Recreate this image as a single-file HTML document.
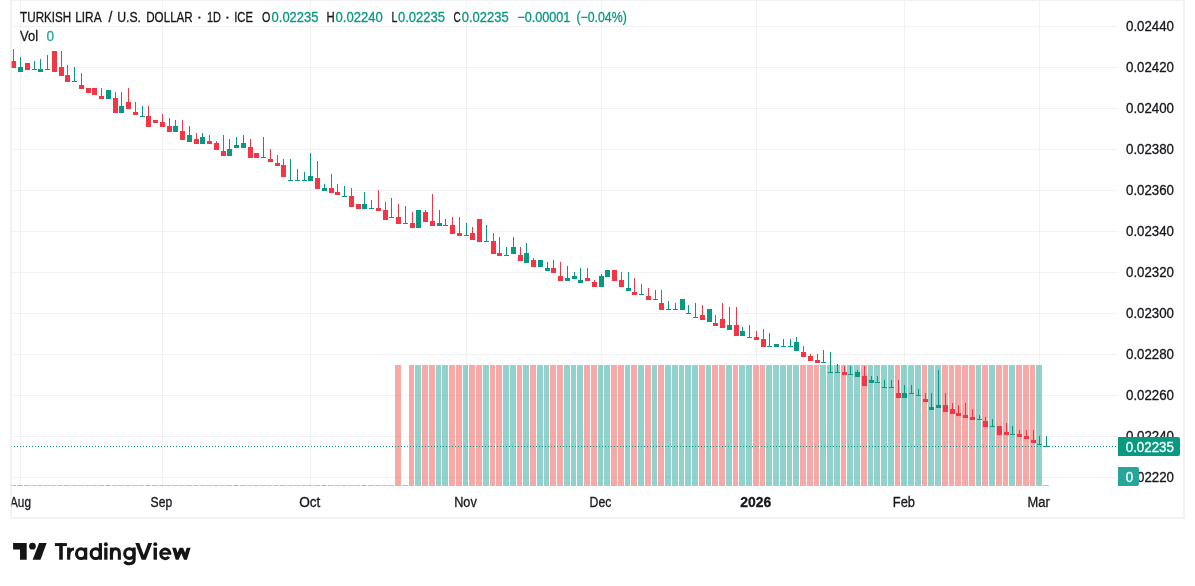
<!DOCTYPE html>
<html><head><meta charset="utf-8"><title>TRYUSD</title><style>
html,body{margin:0;padding:0;background:#fff}
body{width:1195px;height:586px;overflow:hidden;position:relative;font-family:"Liberation Sans", sans-serif}
svg{position:absolute;left:0;top:0;display:block;will-change:transform}
text{font-family:"Liberation Sans", sans-serif;font-size:13.8px;stroke-width:0.3px;stroke-linejoin:round}
</style></head><body>
<svg width="1195" height="586" viewBox="0 0 1195 586">
<defs><clipPath id="pane"><rect x="11" y="0" width="1106" height="486"/></clipPath>
<clipPath id="box"><rect x="11" y="1" width="1172" height="516"/></clipPath></defs>
<g shape-rendering="crispEdges">
<rect x="10" y="0" width="1175" height="519" fill="#f2f2f2"/>
<rect x="12" y="1" width="1171" height="516" fill="#ffffff"/>
<rect x="20" y="1" width="1" height="485" fill="rgba(30,30,30,0.058)"/>
<rect x="162" y="1" width="1" height="485" fill="rgba(30,30,30,0.058)"/>
<rect x="310" y="1" width="1" height="485" fill="rgba(30,30,30,0.058)"/>
<rect x="466" y="1" width="1" height="485" fill="rgba(30,30,30,0.058)"/>
<rect x="601" y="1" width="1" height="485" fill="rgba(30,30,30,0.058)"/>
<rect x="756" y="1" width="1" height="485" fill="rgba(30,30,30,0.058)"/>
<rect x="904" y="1" width="1" height="485" fill="rgba(30,30,30,0.058)"/>
<rect x="1039" y="1" width="1" height="485" fill="rgba(30,30,30,0.058)"/>
<rect x="12" y="26" width="1105" height="1" fill="rgba(30,30,30,0.058)"/>
<rect x="12" y="67" width="1105" height="1" fill="rgba(30,30,30,0.058)"/>
<rect x="12" y="108" width="1105" height="1" fill="rgba(30,30,30,0.058)"/>
<rect x="12" y="149" width="1105" height="1" fill="rgba(30,30,30,0.058)"/>
<rect x="12" y="190" width="1105" height="1" fill="rgba(30,30,30,0.058)"/>
<rect x="12" y="231" width="1105" height="1" fill="rgba(30,30,30,0.058)"/>
<rect x="12" y="272" width="1105" height="1" fill="rgba(30,30,30,0.058)"/>
<rect x="12" y="313" width="1105" height="1" fill="rgba(30,30,30,0.058)"/>
<rect x="12" y="354" width="1105" height="1" fill="rgba(30,30,30,0.058)"/>
<rect x="12" y="395" width="1105" height="1" fill="rgba(30,30,30,0.058)"/>
<rect x="12" y="436" width="1105" height="1" fill="rgba(30,30,30,0.058)"/>
<rect x="12" y="477" width="1105" height="1" fill="rgba(30,30,30,0.058)"/>
<g clip-path="url(#pane)">
<rect x="10" y="485" width="6" height="1" fill="rgba(239,83,80,0.5)"/>
<rect x="17" y="485" width="6" height="1" fill="rgba(38,166,154,0.5)"/>
<rect x="24" y="485" width="6" height="1" fill="rgba(239,83,80,0.5)"/>
<rect x="31" y="485" width="5" height="1" fill="rgba(38,166,154,0.5)"/>
<rect x="37" y="485" width="6" height="1" fill="rgba(38,166,154,0.5)"/>
<rect x="44" y="485" width="6" height="1" fill="rgba(38,166,154,0.5)"/>
<rect x="51" y="485" width="6" height="1" fill="rgba(239,83,80,0.5)"/>
<rect x="58" y="485" width="5" height="1" fill="rgba(239,83,80,0.5)"/>
<rect x="64" y="485" width="6" height="1" fill="rgba(239,83,80,0.5)"/>
<rect x="71" y="485" width="6" height="1" fill="rgba(38,166,154,0.5)"/>
<rect x="78" y="485" width="6" height="1" fill="rgba(239,83,80,0.5)"/>
<rect x="85" y="485" width="5" height="1" fill="rgba(239,83,80,0.5)"/>
<rect x="91" y="485" width="6" height="1" fill="rgba(239,83,80,0.5)"/>
<rect x="98" y="485" width="6" height="1" fill="rgba(239,83,80,0.5)"/>
<rect x="105" y="485" width="6" height="1" fill="rgba(38,166,154,0.5)"/>
<rect x="112" y="485" width="5" height="1" fill="rgba(239,83,80,0.5)"/>
<rect x="118" y="485" width="6" height="1" fill="rgba(38,166,154,0.5)"/>
<rect x="125" y="485" width="6" height="1" fill="rgba(239,83,80,0.5)"/>
<rect x="132" y="485" width="6" height="1" fill="rgba(239,83,80,0.5)"/>
<rect x="139" y="485" width="5" height="1" fill="rgba(38,166,154,0.5)"/>
<rect x="145" y="485" width="6" height="1" fill="rgba(239,83,80,0.5)"/>
<rect x="152" y="485" width="6" height="1" fill="rgba(239,83,80,0.5)"/>
<rect x="159" y="485" width="6" height="1" fill="rgba(239,83,80,0.5)"/>
<rect x="166" y="485" width="5" height="1" fill="rgba(239,83,80,0.5)"/>
<rect x="172" y="485" width="6" height="1" fill="rgba(38,166,154,0.5)"/>
<rect x="179" y="485" width="6" height="1" fill="rgba(239,83,80,0.5)"/>
<rect x="186" y="485" width="6" height="1" fill="rgba(38,166,154,0.5)"/>
<rect x="193" y="485" width="5" height="1" fill="rgba(239,83,80,0.5)"/>
<rect x="199" y="485" width="6" height="1" fill="rgba(38,166,154,0.5)"/>
<rect x="206" y="485" width="6" height="1" fill="rgba(239,83,80,0.5)"/>
<rect x="213" y="485" width="6" height="1" fill="rgba(239,83,80,0.5)"/>
<rect x="220" y="485" width="5" height="1" fill="rgba(239,83,80,0.5)"/>
<rect x="226" y="485" width="6" height="1" fill="rgba(38,166,154,0.5)"/>
<rect x="233" y="485" width="6" height="1" fill="rgba(38,166,154,0.5)"/>
<rect x="240" y="485" width="6" height="1" fill="rgba(38,166,154,0.5)"/>
<rect x="247" y="485" width="5" height="1" fill="rgba(239,83,80,0.5)"/>
<rect x="253" y="485" width="6" height="1" fill="rgba(239,83,80,0.5)"/>
<rect x="260" y="485" width="6" height="1" fill="rgba(38,166,154,0.5)"/>
<rect x="267" y="485" width="6" height="1" fill="rgba(239,83,80,0.5)"/>
<rect x="274" y="485" width="5" height="1" fill="rgba(239,83,80,0.5)"/>
<rect x="280" y="485" width="6" height="1" fill="rgba(239,83,80,0.5)"/>
<rect x="287" y="485" width="6" height="1" fill="rgba(38,166,154,0.5)"/>
<rect x="294" y="485" width="6" height="1" fill="rgba(38,166,154,0.5)"/>
<rect x="301" y="485" width="5" height="1" fill="rgba(38,166,154,0.5)"/>
<rect x="307" y="485" width="6" height="1" fill="rgba(38,166,154,0.5)"/>
<rect x="314" y="485" width="6" height="1" fill="rgba(239,83,80,0.5)"/>
<rect x="321" y="485" width="6" height="1" fill="rgba(38,166,154,0.5)"/>
<rect x="328" y="485" width="5" height="1" fill="rgba(239,83,80,0.5)"/>
<rect x="334" y="485" width="6" height="1" fill="rgba(239,83,80,0.5)"/>
<rect x="341" y="485" width="6" height="1" fill="rgba(38,166,154,0.5)"/>
<rect x="348" y="485" width="6" height="1" fill="rgba(239,83,80,0.5)"/>
<rect x="355" y="485" width="5" height="1" fill="rgba(239,83,80,0.5)"/>
<rect x="361" y="485" width="6" height="1" fill="rgba(38,166,154,0.5)"/>
<rect x="368" y="485" width="6" height="1" fill="rgba(38,166,154,0.5)"/>
<rect x="375" y="485" width="6" height="1" fill="rgba(239,83,80,0.5)"/>
<rect x="382" y="485" width="5" height="1" fill="rgba(239,83,80,0.5)"/>
<rect x="388" y="485" width="6" height="1" fill="rgba(38,166,154,0.5)"/>
<rect x="395" y="365" width="6" height="121" fill="rgba(239,83,80,0.5)"/>
<rect x="402" y="485" width="6" height="1" fill="rgba(38,166,154,0.5)"/>
<rect x="409" y="365" width="5" height="121" fill="rgba(239,83,80,0.5)"/>
<rect x="415" y="365" width="6" height="121" fill="rgba(38,166,154,0.5)"/>
<rect x="422" y="365" width="6" height="121" fill="rgba(239,83,80,0.5)"/>
<rect x="429" y="365" width="6" height="121" fill="rgba(239,83,80,0.5)"/>
<rect x="436" y="365" width="5" height="121" fill="rgba(38,166,154,0.5)"/>
<rect x="442" y="365" width="6" height="121" fill="rgba(38,166,154,0.5)"/>
<rect x="449" y="365" width="6" height="121" fill="rgba(239,83,80,0.5)"/>
<rect x="456" y="365" width="6" height="121" fill="rgba(239,83,80,0.5)"/>
<rect x="463" y="365" width="5" height="121" fill="rgba(38,166,154,0.5)"/>
<rect x="469" y="365" width="6" height="121" fill="rgba(239,83,80,0.5)"/>
<rect x="476" y="365" width="6" height="121" fill="rgba(239,83,80,0.5)"/>
<rect x="483" y="365" width="6" height="121" fill="rgba(38,166,154,0.5)"/>
<rect x="490" y="365" width="5" height="121" fill="rgba(239,83,80,0.5)"/>
<rect x="496" y="365" width="6" height="121" fill="rgba(239,83,80,0.5)"/>
<rect x="503" y="365" width="6" height="121" fill="rgba(38,166,154,0.5)"/>
<rect x="510" y="365" width="6" height="121" fill="rgba(38,166,154,0.5)"/>
<rect x="517" y="365" width="5" height="121" fill="rgba(239,83,80,0.5)"/>
<rect x="523" y="365" width="6" height="121" fill="rgba(38,166,154,0.5)"/>
<rect x="530" y="365" width="6" height="121" fill="rgba(239,83,80,0.5)"/>
<rect x="537" y="365" width="6" height="121" fill="rgba(38,166,154,0.5)"/>
<rect x="544" y="365" width="5" height="121" fill="rgba(38,166,154,0.5)"/>
<rect x="550" y="365" width="6" height="121" fill="rgba(239,83,80,0.5)"/>
<rect x="557" y="365" width="6" height="121" fill="rgba(239,83,80,0.5)"/>
<rect x="564" y="365" width="6" height="121" fill="rgba(38,166,154,0.5)"/>
<rect x="571" y="365" width="5" height="121" fill="rgba(38,166,154,0.5)"/>
<rect x="577" y="365" width="6" height="121" fill="rgba(38,166,154,0.5)"/>
<rect x="584" y="365" width="6" height="121" fill="rgba(239,83,80,0.5)"/>
<rect x="591" y="365" width="6" height="121" fill="rgba(239,83,80,0.5)"/>
<rect x="598" y="365" width="5" height="121" fill="rgba(38,166,154,0.5)"/>
<rect x="604" y="365" width="6" height="121" fill="rgba(38,166,154,0.5)"/>
<rect x="611" y="365" width="6" height="121" fill="rgba(239,83,80,0.5)"/>
<rect x="618" y="365" width="6" height="121" fill="rgba(239,83,80,0.5)"/>
<rect x="625" y="365" width="5" height="121" fill="rgba(38,166,154,0.5)"/>
<rect x="631" y="365" width="6" height="121" fill="rgba(239,83,80,0.5)"/>
<rect x="638" y="365" width="6" height="121" fill="rgba(38,166,154,0.5)"/>
<rect x="645" y="365" width="6" height="121" fill="rgba(239,83,80,0.5)"/>
<rect x="652" y="365" width="5" height="121" fill="rgba(38,166,154,0.5)"/>
<rect x="658" y="365" width="6" height="121" fill="rgba(239,83,80,0.5)"/>
<rect x="665" y="365" width="6" height="121" fill="rgba(38,166,154,0.5)"/>
<rect x="672" y="365" width="6" height="121" fill="rgba(38,166,154,0.5)"/>
<rect x="679" y="365" width="5" height="121" fill="rgba(38,166,154,0.5)"/>
<rect x="685" y="365" width="6" height="121" fill="rgba(38,166,154,0.5)"/>
<rect x="692" y="365" width="6" height="121" fill="rgba(38,166,154,0.5)"/>
<rect x="699" y="365" width="6" height="121" fill="rgba(239,83,80,0.5)"/>
<rect x="706" y="365" width="5" height="121" fill="rgba(38,166,154,0.5)"/>
<rect x="712" y="365" width="6" height="121" fill="rgba(239,83,80,0.5)"/>
<rect x="719" y="365" width="6" height="121" fill="rgba(239,83,80,0.5)"/>
<rect x="726" y="365" width="6" height="121" fill="rgba(38,166,154,0.5)"/>
<rect x="733" y="365" width="5" height="121" fill="rgba(239,83,80,0.5)"/>
<rect x="739" y="365" width="6" height="121" fill="rgba(38,166,154,0.5)"/>
<rect x="746" y="365" width="6" height="121" fill="rgba(38,166,154,0.5)"/>
<rect x="753" y="365" width="6" height="121" fill="rgba(239,83,80,0.5)"/>
<rect x="760" y="365" width="5" height="121" fill="rgba(239,83,80,0.5)"/>
<rect x="766" y="365" width="6" height="121" fill="rgba(38,166,154,0.5)"/>
<rect x="773" y="365" width="6" height="121" fill="rgba(38,166,154,0.5)"/>
<rect x="780" y="365" width="6" height="121" fill="rgba(38,166,154,0.5)"/>
<rect x="787" y="365" width="5" height="121" fill="rgba(38,166,154,0.5)"/>
<rect x="793" y="365" width="6" height="121" fill="rgba(38,166,154,0.5)"/>
<rect x="800" y="365" width="6" height="121" fill="rgba(239,83,80,0.5)"/>
<rect x="807" y="365" width="6" height="121" fill="rgba(239,83,80,0.5)"/>
<rect x="814" y="365" width="5" height="121" fill="rgba(239,83,80,0.5)"/>
<rect x="820" y="365" width="6" height="121" fill="rgba(38,166,154,0.5)"/>
<rect x="827" y="365" width="6" height="121" fill="rgba(38,166,154,0.5)"/>
<rect x="834" y="365" width="6" height="121" fill="rgba(38,166,154,0.5)"/>
<rect x="841" y="365" width="5" height="121" fill="rgba(239,83,80,0.5)"/>
<rect x="847" y="365" width="6" height="121" fill="rgba(38,166,154,0.5)"/>
<rect x="854" y="365" width="6" height="121" fill="rgba(38,166,154,0.5)"/>
<rect x="861" y="365" width="6" height="121" fill="rgba(239,83,80,0.5)"/>
<rect x="868" y="365" width="5" height="121" fill="rgba(38,166,154,0.5)"/>
<rect x="874" y="365" width="6" height="121" fill="rgba(38,166,154,0.5)"/>
<rect x="881" y="365" width="6" height="121" fill="rgba(38,166,154,0.5)"/>
<rect x="888" y="365" width="6" height="121" fill="rgba(38,166,154,0.5)"/>
<rect x="895" y="365" width="5" height="121" fill="rgba(239,83,80,0.5)"/>
<rect x="901" y="365" width="6" height="121" fill="rgba(38,166,154,0.5)"/>
<rect x="908" y="365" width="6" height="121" fill="rgba(38,166,154,0.5)"/>
<rect x="915" y="365" width="6" height="121" fill="rgba(38,166,154,0.5)"/>
<rect x="922" y="365" width="5" height="121" fill="rgba(239,83,80,0.5)"/>
<rect x="928" y="365" width="6" height="121" fill="rgba(38,166,154,0.5)"/>
<rect x="935" y="365" width="6" height="121" fill="rgba(38,166,154,0.5)"/>
<rect x="942" y="365" width="6" height="121" fill="rgba(239,83,80,0.5)"/>
<rect x="949" y="365" width="5" height="121" fill="rgba(239,83,80,0.5)"/>
<rect x="955" y="365" width="6" height="121" fill="rgba(239,83,80,0.5)"/>
<rect x="962" y="365" width="6" height="121" fill="rgba(239,83,80,0.5)"/>
<rect x="969" y="365" width="6" height="121" fill="rgba(239,83,80,0.5)"/>
<rect x="976" y="365" width="5" height="121" fill="rgba(38,166,154,0.5)"/>
<rect x="982" y="365" width="6" height="121" fill="rgba(239,83,80,0.5)"/>
<rect x="989" y="365" width="6" height="121" fill="rgba(38,166,154,0.5)"/>
<rect x="996" y="365" width="6" height="121" fill="rgba(239,83,80,0.5)"/>
<rect x="1003" y="365" width="5" height="121" fill="rgba(239,83,80,0.5)"/>
<rect x="1009" y="365" width="6" height="121" fill="rgba(38,166,154,0.5)"/>
<rect x="1016" y="365" width="6" height="121" fill="rgba(239,83,80,0.5)"/>
<rect x="1023" y="365" width="6" height="121" fill="rgba(239,83,80,0.5)"/>
<rect x="1030" y="365" width="5" height="121" fill="rgba(239,83,80,0.5)"/>
<rect x="1036" y="365" width="6" height="121" fill="rgba(38,166,154,0.5)"/>
<rect x="1043" y="485" width="6" height="1" fill="rgba(38,166,154,0.5)"/>
<rect x="13" y="49" width="1" height="19" fill="#f23645"/>
<rect x="11" y="61" width="5" height="7" fill="#f23645"/>
<rect x="20" y="57" width="1" height="15" fill="#089981"/>
<rect x="18" y="67" width="5" height="5" fill="#089981"/>
<rect x="25" y="63" width="5" height="7" fill="#f23645"/>
<rect x="34" y="61" width="1" height="9" fill="#089981"/>
<rect x="32" y="69" width="5" height="1" fill="#089981"/>
<rect x="40" y="59" width="1" height="13" fill="#089981"/>
<rect x="38" y="69" width="5" height="3" fill="#089981"/>
<rect x="47" y="55" width="1" height="15" fill="#089981"/>
<rect x="45" y="69" width="5" height="1" fill="#089981"/>
<rect x="52" y="51" width="5" height="21" fill="#f23645"/>
<rect x="61" y="51" width="1" height="25" fill="#f23645"/>
<rect x="59" y="67" width="5" height="9" fill="#f23645"/>
<rect x="67" y="65" width="1" height="17" fill="#f23645"/>
<rect x="65" y="75" width="5" height="7" fill="#f23645"/>
<rect x="74" y="67" width="1" height="15" fill="#089981"/>
<rect x="72" y="81" width="5" height="1" fill="#089981"/>
<rect x="81" y="73" width="1" height="16" fill="#f23645"/>
<rect x="79" y="85" width="5" height="4" fill="#f23645"/>
<rect x="86" y="88" width="5" height="5" fill="#f23645"/>
<rect x="92" y="88" width="5" height="7" fill="#f23645"/>
<rect x="101" y="88" width="1" height="11" fill="#f23645"/>
<rect x="99" y="96" width="5" height="3" fill="#f23645"/>
<rect x="106" y="90" width="5" height="9" fill="#089981"/>
<rect x="115" y="92" width="1" height="21" fill="#f23645"/>
<rect x="113" y="98" width="5" height="15" fill="#f23645"/>
<rect x="121" y="92" width="1" height="21" fill="#089981"/>
<rect x="119" y="106" width="5" height="7" fill="#089981"/>
<rect x="128" y="88" width="1" height="21" fill="#f23645"/>
<rect x="126" y="102" width="5" height="7" fill="#f23645"/>
<rect x="135" y="102" width="1" height="13" fill="#f23645"/>
<rect x="133" y="112" width="5" height="3" fill="#f23645"/>
<rect x="142" y="106" width="1" height="11" fill="#089981"/>
<rect x="140" y="116" width="5" height="1" fill="#089981"/>
<rect x="148" y="106" width="1" height="21" fill="#f23645"/>
<rect x="146" y="116" width="5" height="11" fill="#f23645"/>
<rect x="153" y="120" width="5" height="3" fill="#f23645"/>
<rect x="162" y="114" width="1" height="13" fill="#f23645"/>
<rect x="160" y="122" width="5" height="5" fill="#f23645"/>
<rect x="169" y="118" width="1" height="14" fill="#f23645"/>
<rect x="167" y="126" width="5" height="6" fill="#f23645"/>
<rect x="175" y="120" width="1" height="12" fill="#089981"/>
<rect x="173" y="126" width="5" height="6" fill="#089981"/>
<rect x="182" y="120" width="1" height="20" fill="#f23645"/>
<rect x="180" y="131" width="5" height="9" fill="#f23645"/>
<rect x="189" y="126" width="1" height="16" fill="#089981"/>
<rect x="187" y="135" width="5" height="7" fill="#089981"/>
<rect x="196" y="133" width="1" height="11" fill="#f23645"/>
<rect x="194" y="139" width="5" height="5" fill="#f23645"/>
<rect x="202" y="133" width="1" height="11" fill="#089981"/>
<rect x="200" y="137" width="5" height="7" fill="#089981"/>
<rect x="209" y="135" width="1" height="9" fill="#f23645"/>
<rect x="207" y="141" width="5" height="3" fill="#f23645"/>
<rect x="216" y="141" width="1" height="9" fill="#f23645"/>
<rect x="214" y="143" width="5" height="7" fill="#f23645"/>
<rect x="223" y="135" width="1" height="21" fill="#f23645"/>
<rect x="221" y="151" width="5" height="5" fill="#f23645"/>
<rect x="229" y="139" width="1" height="17" fill="#089981"/>
<rect x="227" y="149" width="5" height="7" fill="#089981"/>
<rect x="236" y="137" width="1" height="11" fill="#089981"/>
<rect x="234" y="145" width="5" height="3" fill="#089981"/>
<rect x="243" y="135" width="1" height="13" fill="#089981"/>
<rect x="241" y="143" width="5" height="5" fill="#089981"/>
<rect x="250" y="139" width="1" height="19" fill="#f23645"/>
<rect x="248" y="147" width="5" height="11" fill="#f23645"/>
<rect x="254" y="153" width="5" height="5" fill="#f23645"/>
<rect x="263" y="137" width="1" height="21" fill="#089981"/>
<rect x="261" y="157" width="5" height="1" fill="#089981"/>
<rect x="270" y="149" width="1" height="13" fill="#f23645"/>
<rect x="268" y="159" width="5" height="3" fill="#f23645"/>
<rect x="277" y="155" width="1" height="11" fill="#f23645"/>
<rect x="275" y="163" width="5" height="3" fill="#f23645"/>
<rect x="283" y="159" width="1" height="18" fill="#f23645"/>
<rect x="281" y="165" width="5" height="12" fill="#f23645"/>
<rect x="290" y="159" width="1" height="22" fill="#089981"/>
<rect x="288" y="180" width="5" height="1" fill="#089981"/>
<rect x="297" y="169" width="1" height="12" fill="#089981"/>
<rect x="295" y="180" width="5" height="1" fill="#089981"/>
<rect x="304" y="172" width="1" height="9" fill="#089981"/>
<rect x="302" y="180" width="5" height="1" fill="#089981"/>
<rect x="310" y="153" width="1" height="28" fill="#089981"/>
<rect x="308" y="176" width="5" height="5" fill="#089981"/>
<rect x="317" y="161" width="1" height="28" fill="#f23645"/>
<rect x="315" y="178" width="5" height="11" fill="#f23645"/>
<rect x="324" y="184" width="1" height="7" fill="#089981"/>
<rect x="322" y="188" width="5" height="3" fill="#089981"/>
<rect x="331" y="174" width="1" height="19" fill="#f23645"/>
<rect x="329" y="188" width="5" height="5" fill="#f23645"/>
<rect x="337" y="184" width="1" height="11" fill="#f23645"/>
<rect x="335" y="192" width="5" height="3" fill="#f23645"/>
<rect x="344" y="186" width="1" height="11" fill="#089981"/>
<rect x="342" y="196" width="5" height="1" fill="#089981"/>
<rect x="351" y="188" width="1" height="19" fill="#f23645"/>
<rect x="349" y="196" width="5" height="11" fill="#f23645"/>
<rect x="356" y="204" width="5" height="5" fill="#f23645"/>
<rect x="364" y="192" width="1" height="17" fill="#089981"/>
<rect x="362" y="204" width="5" height="5" fill="#089981"/>
<rect x="371" y="200" width="1" height="9" fill="#089981"/>
<rect x="369" y="208" width="5" height="1" fill="#089981"/>
<rect x="378" y="190" width="1" height="21" fill="#f23645"/>
<rect x="376" y="208" width="5" height="3" fill="#f23645"/>
<rect x="385" y="202" width="1" height="18" fill="#f23645"/>
<rect x="383" y="210" width="5" height="10" fill="#f23645"/>
<rect x="391" y="198" width="1" height="20" fill="#089981"/>
<rect x="389" y="217" width="5" height="1" fill="#089981"/>
<rect x="398" y="204" width="1" height="20" fill="#f23645"/>
<rect x="396" y="217" width="5" height="7" fill="#f23645"/>
<rect x="405" y="206" width="1" height="18" fill="#089981"/>
<rect x="403" y="223" width="5" height="1" fill="#089981"/>
<rect x="412" y="212" width="1" height="16" fill="#f23645"/>
<rect x="410" y="223" width="5" height="5" fill="#f23645"/>
<rect x="416" y="210" width="5" height="18" fill="#089981"/>
<rect x="425" y="210" width="1" height="12" fill="#f23645"/>
<rect x="423" y="212" width="5" height="10" fill="#f23645"/>
<rect x="432" y="194" width="1" height="32" fill="#f23645"/>
<rect x="430" y="221" width="5" height="5" fill="#f23645"/>
<rect x="439" y="210" width="1" height="16" fill="#089981"/>
<rect x="437" y="223" width="5" height="3" fill="#089981"/>
<rect x="445" y="219" width="1" height="7" fill="#089981"/>
<rect x="443" y="225" width="5" height="1" fill="#089981"/>
<rect x="452" y="217" width="1" height="17" fill="#f23645"/>
<rect x="450" y="225" width="5" height="9" fill="#f23645"/>
<rect x="459" y="217" width="1" height="19" fill="#f23645"/>
<rect x="457" y="233" width="5" height="3" fill="#f23645"/>
<rect x="466" y="223" width="1" height="13" fill="#089981"/>
<rect x="464" y="235" width="5" height="1" fill="#089981"/>
<rect x="472" y="227" width="1" height="13" fill="#f23645"/>
<rect x="470" y="233" width="5" height="7" fill="#f23645"/>
<rect x="477" y="219" width="5" height="23" fill="#f23645"/>
<rect x="486" y="225" width="1" height="17" fill="#089981"/>
<rect x="484" y="241" width="5" height="1" fill="#089981"/>
<rect x="493" y="233" width="1" height="21" fill="#f23645"/>
<rect x="491" y="241" width="5" height="13" fill="#f23645"/>
<rect x="499" y="237" width="1" height="19" fill="#f23645"/>
<rect x="497" y="253" width="5" height="3" fill="#f23645"/>
<rect x="506" y="247" width="1" height="9" fill="#089981"/>
<rect x="504" y="255" width="5" height="1" fill="#089981"/>
<rect x="513" y="237" width="1" height="17" fill="#089981"/>
<rect x="511" y="247" width="5" height="7" fill="#089981"/>
<rect x="520" y="247" width="1" height="14" fill="#f23645"/>
<rect x="518" y="255" width="5" height="6" fill="#f23645"/>
<rect x="526" y="243" width="1" height="20" fill="#089981"/>
<rect x="524" y="253" width="5" height="10" fill="#089981"/>
<rect x="533" y="258" width="1" height="9" fill="#f23645"/>
<rect x="531" y="260" width="5" height="7" fill="#f23645"/>
<rect x="538" y="260" width="5" height="7" fill="#089981"/>
<rect x="547" y="262" width="1" height="9" fill="#089981"/>
<rect x="545" y="268" width="5" height="3" fill="#089981"/>
<rect x="553" y="260" width="1" height="13" fill="#f23645"/>
<rect x="551" y="268" width="5" height="5" fill="#f23645"/>
<rect x="560" y="262" width="1" height="19" fill="#f23645"/>
<rect x="558" y="276" width="5" height="5" fill="#f23645"/>
<rect x="567" y="266" width="1" height="15" fill="#089981"/>
<rect x="565" y="278" width="5" height="3" fill="#089981"/>
<rect x="574" y="272" width="1" height="7" fill="#089981"/>
<rect x="572" y="276" width="5" height="3" fill="#089981"/>
<rect x="580" y="268" width="1" height="15" fill="#089981"/>
<rect x="578" y="280" width="5" height="3" fill="#089981"/>
<rect x="587" y="268" width="1" height="13" fill="#f23645"/>
<rect x="585" y="278" width="5" height="3" fill="#f23645"/>
<rect x="594" y="280" width="1" height="7" fill="#f23645"/>
<rect x="592" y="282" width="5" height="5" fill="#f23645"/>
<rect x="601" y="274" width="1" height="13" fill="#089981"/>
<rect x="599" y="276" width="5" height="11" fill="#089981"/>
<rect x="605" y="270" width="5" height="7" fill="#089981"/>
<rect x="612" y="270" width="5" height="11" fill="#f23645"/>
<rect x="621" y="272" width="1" height="15" fill="#f23645"/>
<rect x="619" y="280" width="5" height="7" fill="#f23645"/>
<rect x="628" y="272" width="1" height="19" fill="#089981"/>
<rect x="626" y="288" width="5" height="3" fill="#089981"/>
<rect x="634" y="278" width="1" height="17" fill="#f23645"/>
<rect x="632" y="292" width="5" height="3" fill="#f23645"/>
<rect x="641" y="284" width="1" height="11" fill="#089981"/>
<rect x="639" y="294" width="5" height="1" fill="#089981"/>
<rect x="648" y="288" width="1" height="12" fill="#f23645"/>
<rect x="646" y="296" width="5" height="4" fill="#f23645"/>
<rect x="655" y="290" width="1" height="10" fill="#089981"/>
<rect x="653" y="299" width="5" height="1" fill="#089981"/>
<rect x="661" y="290" width="1" height="20" fill="#f23645"/>
<rect x="659" y="303" width="5" height="7" fill="#f23645"/>
<rect x="668" y="301" width="1" height="9" fill="#089981"/>
<rect x="666" y="309" width="5" height="1" fill="#089981"/>
<rect x="675" y="303" width="1" height="7" fill="#089981"/>
<rect x="673" y="309" width="5" height="1" fill="#089981"/>
<rect x="680" y="299" width="5" height="11" fill="#089981"/>
<rect x="688" y="305" width="1" height="9" fill="#089981"/>
<rect x="686" y="313" width="5" height="1" fill="#089981"/>
<rect x="695" y="303" width="1" height="15" fill="#089981"/>
<rect x="693" y="317" width="5" height="1" fill="#089981"/>
<rect x="702" y="305" width="1" height="15" fill="#f23645"/>
<rect x="700" y="315" width="5" height="5" fill="#f23645"/>
<rect x="707" y="309" width="5" height="13" fill="#089981"/>
<rect x="715" y="315" width="1" height="11" fill="#f23645"/>
<rect x="713" y="323" width="5" height="3" fill="#f23645"/>
<rect x="722" y="303" width="1" height="25" fill="#f23645"/>
<rect x="720" y="319" width="5" height="9" fill="#f23645"/>
<rect x="729" y="307" width="1" height="23" fill="#089981"/>
<rect x="727" y="325" width="5" height="5" fill="#089981"/>
<rect x="736" y="307" width="1" height="29" fill="#f23645"/>
<rect x="734" y="325" width="5" height="11" fill="#f23645"/>
<rect x="742" y="327" width="1" height="9" fill="#089981"/>
<rect x="740" y="331" width="5" height="5" fill="#089981"/>
<rect x="749" y="325" width="1" height="13" fill="#089981"/>
<rect x="747" y="337" width="5" height="1" fill="#089981"/>
<rect x="756" y="331" width="1" height="9" fill="#f23645"/>
<rect x="754" y="337" width="5" height="3" fill="#f23645"/>
<rect x="763" y="329" width="1" height="18" fill="#f23645"/>
<rect x="761" y="339" width="5" height="8" fill="#f23645"/>
<rect x="769" y="333" width="1" height="14" fill="#089981"/>
<rect x="767" y="346" width="5" height="1" fill="#089981"/>
<rect x="774" y="344" width="5" height="3" fill="#089981"/>
<rect x="783" y="339" width="1" height="8" fill="#089981"/>
<rect x="781" y="346" width="5" height="1" fill="#089981"/>
<rect x="790" y="339" width="1" height="8" fill="#089981"/>
<rect x="788" y="346" width="5" height="1" fill="#089981"/>
<rect x="796" y="337" width="1" height="14" fill="#089981"/>
<rect x="794" y="342" width="5" height="9" fill="#089981"/>
<rect x="803" y="346" width="1" height="11" fill="#f23645"/>
<rect x="801" y="352" width="5" height="5" fill="#f23645"/>
<rect x="810" y="354" width="1" height="7" fill="#f23645"/>
<rect x="808" y="356" width="5" height="5" fill="#f23645"/>
<rect x="817" y="354" width="1" height="9" fill="#f23645"/>
<rect x="815" y="360" width="5" height="3" fill="#f23645"/>
<rect x="823" y="350" width="1" height="13" fill="#089981"/>
<rect x="821" y="362" width="5" height="1" fill="#089981"/>
<rect x="830" y="352" width="1" height="21" fill="#089981"/>
<rect x="828" y="372" width="5" height="1" fill="#089981"/>
<rect x="837" y="364" width="1" height="9" fill="#089981"/>
<rect x="835" y="372" width="5" height="1" fill="#089981"/>
<rect x="844" y="366" width="1" height="9" fill="#f23645"/>
<rect x="842" y="372" width="5" height="3" fill="#f23645"/>
<rect x="850" y="366" width="1" height="9" fill="#089981"/>
<rect x="848" y="374" width="5" height="1" fill="#089981"/>
<rect x="857" y="370" width="1" height="7" fill="#089981"/>
<rect x="855" y="372" width="5" height="5" fill="#089981"/>
<rect x="864" y="366" width="1" height="20" fill="#f23645"/>
<rect x="862" y="376" width="5" height="10" fill="#f23645"/>
<rect x="871" y="376" width="1" height="7" fill="#089981"/>
<rect x="869" y="380" width="5" height="3" fill="#089981"/>
<rect x="877" y="376" width="1" height="7" fill="#089981"/>
<rect x="875" y="382" width="5" height="1" fill="#089981"/>
<rect x="884" y="380" width="1" height="8" fill="#089981"/>
<rect x="882" y="387" width="5" height="1" fill="#089981"/>
<rect x="891" y="380" width="1" height="8" fill="#089981"/>
<rect x="889" y="387" width="5" height="1" fill="#089981"/>
<rect x="898" y="380" width="1" height="18" fill="#f23645"/>
<rect x="896" y="393" width="5" height="5" fill="#f23645"/>
<rect x="904" y="385" width="1" height="13" fill="#089981"/>
<rect x="902" y="393" width="5" height="5" fill="#089981"/>
<rect x="911" y="385" width="1" height="9" fill="#089981"/>
<rect x="909" y="393" width="5" height="1" fill="#089981"/>
<rect x="918" y="389" width="1" height="7" fill="#089981"/>
<rect x="916" y="395" width="5" height="1" fill="#089981"/>
<rect x="925" y="393" width="1" height="9" fill="#f23645"/>
<rect x="923" y="399" width="5" height="3" fill="#f23645"/>
<rect x="931" y="393" width="1" height="17" fill="#089981"/>
<rect x="929" y="407" width="5" height="3" fill="#089981"/>
<rect x="938" y="370" width="1" height="38" fill="#089981"/>
<rect x="936" y="405" width="5" height="3" fill="#089981"/>
<rect x="945" y="393" width="1" height="19" fill="#f23645"/>
<rect x="943" y="405" width="5" height="7" fill="#f23645"/>
<rect x="952" y="403" width="1" height="11" fill="#f23645"/>
<rect x="950" y="409" width="5" height="5" fill="#f23645"/>
<rect x="958" y="405" width="1" height="11" fill="#f23645"/>
<rect x="956" y="413" width="5" height="3" fill="#f23645"/>
<rect x="965" y="403" width="1" height="15" fill="#f23645"/>
<rect x="963" y="415" width="5" height="3" fill="#f23645"/>
<rect x="972" y="409" width="1" height="11" fill="#f23645"/>
<rect x="970" y="417" width="5" height="3" fill="#f23645"/>
<rect x="979" y="415" width="1" height="5" fill="#089981"/>
<rect x="977" y="419" width="5" height="1" fill="#089981"/>
<rect x="985" y="417" width="1" height="10" fill="#f23645"/>
<rect x="983" y="421" width="5" height="6" fill="#f23645"/>
<rect x="992" y="419" width="1" height="8" fill="#089981"/>
<rect x="990" y="426" width="5" height="1" fill="#089981"/>
<rect x="997" y="426" width="5" height="9" fill="#f23645"/>
<rect x="1006" y="423" width="1" height="12" fill="#f23645"/>
<rect x="1004" y="432" width="5" height="3" fill="#f23645"/>
<rect x="1012" y="426" width="1" height="9" fill="#089981"/>
<rect x="1010" y="434" width="5" height="1" fill="#089981"/>
<rect x="1019" y="430" width="1" height="7" fill="#f23645"/>
<rect x="1017" y="434" width="5" height="3" fill="#f23645"/>
<rect x="1026" y="430" width="1" height="9" fill="#f23645"/>
<rect x="1024" y="436" width="5" height="3" fill="#f23645"/>
<rect x="1033" y="430" width="1" height="13" fill="#f23645"/>
<rect x="1031" y="440" width="5" height="3" fill="#f23645"/>
<rect x="1039" y="436" width="1" height="9" fill="#089981"/>
<rect x="1037" y="444" width="5" height="1" fill="#089981"/>
<rect x="1046" y="436" width="1" height="11" fill="#089981"/>
<rect x="1044" y="446" width="5" height="1" fill="#089981"/>
</g>
<path d="M11 446h1v1h-1zM14 446h1v1h-1zM17 446h1v1h-1zM20 446h1v1h-1zM23 446h1v1h-1zM26 446h1v1h-1zM29 446h1v1h-1zM32 446h1v1h-1zM35 446h1v1h-1zM38 446h1v1h-1zM41 446h1v1h-1zM44 446h1v1h-1zM47 446h1v1h-1zM50 446h1v1h-1zM53 446h1v1h-1zM56 446h1v1h-1zM59 446h1v1h-1zM62 446h1v1h-1zM65 446h1v1h-1zM68 446h1v1h-1zM71 446h1v1h-1zM74 446h1v1h-1zM77 446h1v1h-1zM80 446h1v1h-1zM83 446h1v1h-1zM86 446h1v1h-1zM89 446h1v1h-1zM92 446h1v1h-1zM95 446h1v1h-1zM98 446h1v1h-1zM101 446h1v1h-1zM104 446h1v1h-1zM107 446h1v1h-1zM110 446h1v1h-1zM113 446h1v1h-1zM116 446h1v1h-1zM119 446h1v1h-1zM122 446h1v1h-1zM125 446h1v1h-1zM128 446h1v1h-1zM131 446h1v1h-1zM134 446h1v1h-1zM137 446h1v1h-1zM140 446h1v1h-1zM143 446h1v1h-1zM146 446h1v1h-1zM149 446h1v1h-1zM152 446h1v1h-1zM155 446h1v1h-1zM158 446h1v1h-1zM161 446h1v1h-1zM164 446h1v1h-1zM167 446h1v1h-1zM170 446h1v1h-1zM173 446h1v1h-1zM176 446h1v1h-1zM179 446h1v1h-1zM182 446h1v1h-1zM185 446h1v1h-1zM188 446h1v1h-1zM191 446h1v1h-1zM194 446h1v1h-1zM197 446h1v1h-1zM200 446h1v1h-1zM203 446h1v1h-1zM206 446h1v1h-1zM209 446h1v1h-1zM212 446h1v1h-1zM215 446h1v1h-1zM218 446h1v1h-1zM221 446h1v1h-1zM224 446h1v1h-1zM227 446h1v1h-1zM230 446h1v1h-1zM233 446h1v1h-1zM236 446h1v1h-1zM239 446h1v1h-1zM242 446h1v1h-1zM245 446h1v1h-1zM248 446h1v1h-1zM251 446h1v1h-1zM254 446h1v1h-1zM257 446h1v1h-1zM260 446h1v1h-1zM263 446h1v1h-1zM266 446h1v1h-1zM269 446h1v1h-1zM272 446h1v1h-1zM275 446h1v1h-1zM278 446h1v1h-1zM281 446h1v1h-1zM284 446h1v1h-1zM287 446h1v1h-1zM290 446h1v1h-1zM293 446h1v1h-1zM296 446h1v1h-1zM299 446h1v1h-1zM302 446h1v1h-1zM305 446h1v1h-1zM308 446h1v1h-1zM311 446h1v1h-1zM314 446h1v1h-1zM317 446h1v1h-1zM320 446h1v1h-1zM323 446h1v1h-1zM326 446h1v1h-1zM329 446h1v1h-1zM332 446h1v1h-1zM335 446h1v1h-1zM338 446h1v1h-1zM341 446h1v1h-1zM344 446h1v1h-1zM347 446h1v1h-1zM350 446h1v1h-1zM353 446h1v1h-1zM356 446h1v1h-1zM359 446h1v1h-1zM362 446h1v1h-1zM365 446h1v1h-1zM368 446h1v1h-1zM371 446h1v1h-1zM374 446h1v1h-1zM377 446h1v1h-1zM380 446h1v1h-1zM383 446h1v1h-1zM386 446h1v1h-1zM389 446h1v1h-1zM392 446h1v1h-1zM395 446h1v1h-1zM398 446h1v1h-1zM401 446h1v1h-1zM404 446h1v1h-1zM407 446h1v1h-1zM410 446h1v1h-1zM413 446h1v1h-1zM416 446h1v1h-1zM419 446h1v1h-1zM422 446h1v1h-1zM425 446h1v1h-1zM428 446h1v1h-1zM431 446h1v1h-1zM434 446h1v1h-1zM437 446h1v1h-1zM440 446h1v1h-1zM443 446h1v1h-1zM446 446h1v1h-1zM449 446h1v1h-1zM452 446h1v1h-1zM455 446h1v1h-1zM458 446h1v1h-1zM461 446h1v1h-1zM464 446h1v1h-1zM467 446h1v1h-1zM470 446h1v1h-1zM473 446h1v1h-1zM476 446h1v1h-1zM479 446h1v1h-1zM482 446h1v1h-1zM485 446h1v1h-1zM488 446h1v1h-1zM491 446h1v1h-1zM494 446h1v1h-1zM497 446h1v1h-1zM500 446h1v1h-1zM503 446h1v1h-1zM506 446h1v1h-1zM509 446h1v1h-1zM512 446h1v1h-1zM515 446h1v1h-1zM518 446h1v1h-1zM521 446h1v1h-1zM524 446h1v1h-1zM527 446h1v1h-1zM530 446h1v1h-1zM533 446h1v1h-1zM536 446h1v1h-1zM539 446h1v1h-1zM542 446h1v1h-1zM545 446h1v1h-1zM548 446h1v1h-1zM551 446h1v1h-1zM554 446h1v1h-1zM557 446h1v1h-1zM560 446h1v1h-1zM563 446h1v1h-1zM566 446h1v1h-1zM569 446h1v1h-1zM572 446h1v1h-1zM575 446h1v1h-1zM578 446h1v1h-1zM581 446h1v1h-1zM584 446h1v1h-1zM587 446h1v1h-1zM590 446h1v1h-1zM593 446h1v1h-1zM596 446h1v1h-1zM599 446h1v1h-1zM602 446h1v1h-1zM605 446h1v1h-1zM608 446h1v1h-1zM611 446h1v1h-1zM614 446h1v1h-1zM617 446h1v1h-1zM620 446h1v1h-1zM623 446h1v1h-1zM626 446h1v1h-1zM629 446h1v1h-1zM632 446h1v1h-1zM635 446h1v1h-1zM638 446h1v1h-1zM641 446h1v1h-1zM644 446h1v1h-1zM647 446h1v1h-1zM650 446h1v1h-1zM653 446h1v1h-1zM656 446h1v1h-1zM659 446h1v1h-1zM662 446h1v1h-1zM665 446h1v1h-1zM668 446h1v1h-1zM671 446h1v1h-1zM674 446h1v1h-1zM677 446h1v1h-1zM680 446h1v1h-1zM683 446h1v1h-1zM686 446h1v1h-1zM689 446h1v1h-1zM692 446h1v1h-1zM695 446h1v1h-1zM698 446h1v1h-1zM701 446h1v1h-1zM704 446h1v1h-1zM707 446h1v1h-1zM710 446h1v1h-1zM713 446h1v1h-1zM716 446h1v1h-1zM719 446h1v1h-1zM722 446h1v1h-1zM725 446h1v1h-1zM728 446h1v1h-1zM731 446h1v1h-1zM734 446h1v1h-1zM737 446h1v1h-1zM740 446h1v1h-1zM743 446h1v1h-1zM746 446h1v1h-1zM749 446h1v1h-1zM752 446h1v1h-1zM755 446h1v1h-1zM758 446h1v1h-1zM761 446h1v1h-1zM764 446h1v1h-1zM767 446h1v1h-1zM770 446h1v1h-1zM773 446h1v1h-1zM776 446h1v1h-1zM779 446h1v1h-1zM782 446h1v1h-1zM785 446h1v1h-1zM788 446h1v1h-1zM791 446h1v1h-1zM794 446h1v1h-1zM797 446h1v1h-1zM800 446h1v1h-1zM803 446h1v1h-1zM806 446h1v1h-1zM809 446h1v1h-1zM812 446h1v1h-1zM815 446h1v1h-1zM818 446h1v1h-1zM821 446h1v1h-1zM824 446h1v1h-1zM827 446h1v1h-1zM830 446h1v1h-1zM833 446h1v1h-1zM836 446h1v1h-1zM839 446h1v1h-1zM842 446h1v1h-1zM845 446h1v1h-1zM848 446h1v1h-1zM851 446h1v1h-1zM854 446h1v1h-1zM857 446h1v1h-1zM860 446h1v1h-1zM863 446h1v1h-1zM866 446h1v1h-1zM869 446h1v1h-1zM872 446h1v1h-1zM875 446h1v1h-1zM878 446h1v1h-1zM881 446h1v1h-1zM884 446h1v1h-1zM887 446h1v1h-1zM890 446h1v1h-1zM893 446h1v1h-1zM896 446h1v1h-1zM899 446h1v1h-1zM902 446h1v1h-1zM905 446h1v1h-1zM908 446h1v1h-1zM911 446h1v1h-1zM914 446h1v1h-1zM917 446h1v1h-1zM920 446h1v1h-1zM923 446h1v1h-1zM926 446h1v1h-1zM929 446h1v1h-1zM932 446h1v1h-1zM935 446h1v1h-1zM938 446h1v1h-1zM941 446h1v1h-1zM944 446h1v1h-1zM947 446h1v1h-1zM950 446h1v1h-1zM953 446h1v1h-1zM956 446h1v1h-1zM959 446h1v1h-1zM962 446h1v1h-1zM965 446h1v1h-1zM968 446h1v1h-1zM971 446h1v1h-1zM974 446h1v1h-1zM977 446h1v1h-1zM980 446h1v1h-1zM983 446h1v1h-1zM986 446h1v1h-1zM989 446h1v1h-1zM992 446h1v1h-1zM995 446h1v1h-1zM998 446h1v1h-1zM1001 446h1v1h-1zM1004 446h1v1h-1zM1007 446h1v1h-1zM1010 446h1v1h-1zM1013 446h1v1h-1zM1016 446h1v1h-1zM1019 446h1v1h-1zM1022 446h1v1h-1zM1025 446h1v1h-1zM1028 446h1v1h-1zM1031 446h1v1h-1zM1034 446h1v1h-1zM1037 446h1v1h-1zM1040 446h1v1h-1zM1043 446h1v1h-1zM1046 446h1v1h-1zM1049 446h1v1h-1zM1052 446h1v1h-1zM1055 446h1v1h-1zM1058 446h1v1h-1zM1061 446h1v1h-1zM1064 446h1v1h-1zM1067 446h1v1h-1zM1070 446h1v1h-1zM1073 446h1v1h-1zM1076 446h1v1h-1zM1079 446h1v1h-1zM1082 446h1v1h-1zM1085 446h1v1h-1zM1088 446h1v1h-1zM1091 446h1v1h-1zM1094 446h1v1h-1zM1097 446h1v1h-1zM1100 446h1v1h-1zM1103 446h1v1h-1zM1106 446h1v1h-1zM1109 446h1v1h-1zM1112 446h1v1h-1zM1115 446h1v1h-1z" fill="#089981"/>
</g>
<text x="1126.0" y="31" fill="#17181d" stroke="#17181d" textLength="48" lengthAdjust="spacingAndGlyphs" >0.02440</text>
<text x="1126.0" y="72" fill="#17181d" stroke="#17181d" textLength="48" lengthAdjust="spacingAndGlyphs" >0.02420</text>
<text x="1126.0" y="113" fill="#17181d" stroke="#17181d" textLength="48" lengthAdjust="spacingAndGlyphs" >0.02400</text>
<text x="1126.0" y="154" fill="#17181d" stroke="#17181d" textLength="48" lengthAdjust="spacingAndGlyphs" >0.02380</text>
<text x="1126.0" y="195" fill="#17181d" stroke="#17181d" textLength="48" lengthAdjust="spacingAndGlyphs" >0.02360</text>
<text x="1126.0" y="236" fill="#17181d" stroke="#17181d" textLength="48" lengthAdjust="spacingAndGlyphs" >0.02340</text>
<text x="1126.0" y="277" fill="#17181d" stroke="#17181d" textLength="48" lengthAdjust="spacingAndGlyphs" >0.02320</text>
<text x="1126.0" y="318" fill="#17181d" stroke="#17181d" textLength="48" lengthAdjust="spacingAndGlyphs" >0.02300</text>
<text x="1126.0" y="359" fill="#17181d" stroke="#17181d" textLength="48" lengthAdjust="spacingAndGlyphs" >0.02280</text>
<text x="1126.0" y="400" fill="#17181d" stroke="#17181d" textLength="48" lengthAdjust="spacingAndGlyphs" >0.02260</text>
<text x="1126.0" y="441" fill="#17181d" stroke="#17181d" textLength="48" lengthAdjust="spacingAndGlyphs" >0.02240</text>
<text x="1126.0" y="482" fill="#17181d" stroke="#17181d" textLength="48" lengthAdjust="spacingAndGlyphs" >0.02220</text>
<path d="M1118 437h60a2 2 0 0 1 2 2v15a2 2 0 0 1 -2 2h-60z" fill="#089981"/>
<text x="1125.8" y="452" fill="#ffffff" stroke="#ffffff" textLength="48" lengthAdjust="spacingAndGlyphs" >0.02235</text>
<path d="M1118 467h19a2 2 0 0 1 2 2v15a2 2 0 0 1 -2 2h-19z" fill="#26a69a"/>
<text x="1125.7" y="482" fill="#ffffff" stroke="#ffffff" textLength="7.4" lengthAdjust="spacingAndGlyphs" >0</text>
<g clip-path="url(#box)">
<text x="10.0" y="507" fill="#17181d" stroke="#17181d" textLength="21" lengthAdjust="spacingAndGlyphs" >Aug</text>
<text x="150.6" y="507" fill="#17181d" stroke="#17181d" textLength="21.6" lengthAdjust="spacingAndGlyphs" >Sep</text>
<text x="299.2" y="507" fill="#17181d" stroke="#17181d" textLength="21.2" lengthAdjust="spacingAndGlyphs" >Oct</text>
<text x="454.2" y="507" fill="#17181d" stroke="#17181d" textLength="22.6" lengthAdjust="spacingAndGlyphs" >Nov</text>
<text x="589.6" y="507" fill="#17181d" stroke="#17181d" textLength="21.8" lengthAdjust="spacingAndGlyphs" >Dec</text>
<text x="740.2" y="507" fill="#17181d" stroke="#17181d" textLength="31" lengthAdjust="spacingAndGlyphs" font-weight="bold" >2026</text>
<text x="892.8" y="507" fill="#17181d" stroke="#17181d" textLength="22.2" lengthAdjust="spacingAndGlyphs" >Feb</text>
<text x="1027.6" y="507" fill="#17181d" stroke="#17181d" textLength="22.2" lengthAdjust="spacingAndGlyphs" >Mar</text>
</g>
<text x="20.1" y="22" fill="#17181d" stroke="#17181d" textLength="51.2" lengthAdjust="spacingAndGlyphs" >TURKISH</text>
<text x="75.2" y="22" fill="#17181d" stroke="#17181d" textLength="26.4" lengthAdjust="spacingAndGlyphs" >LIRA</text>
<text x="108.4" y="22" fill="#17181d" stroke="#17181d" >/</text>
<text x="117.2" y="22" fill="#17181d" stroke="#17181d" textLength="23.8" lengthAdjust="spacingAndGlyphs" >U.S.</text>
<text x="146.2" y="22" fill="#17181d" stroke="#17181d" textLength="46.6" lengthAdjust="spacingAndGlyphs" >DOLLAR</text>
<text x="207" y="22" fill="#17181d" stroke="#17181d" textLength="14" lengthAdjust="spacingAndGlyphs" >1D</text>
<text x="234.2" y="22" fill="#17181d" stroke="#17181d" textLength="18.8" lengthAdjust="spacingAndGlyphs" >ICE</text>
<text x="262" y="22" fill="#17181d" stroke="#17181d" textLength="8.4" lengthAdjust="spacingAndGlyphs" >O</text>
<text x="271.6" y="22" fill="#089981" stroke="#089981" textLength="46.8" lengthAdjust="spacingAndGlyphs" >0.02235</text>
<text x="326.4" y="22" fill="#17181d" stroke="#17181d" textLength="8.2" lengthAdjust="spacingAndGlyphs" >H</text>
<text x="335.6" y="22" fill="#089981" stroke="#089981" textLength="47.2" lengthAdjust="spacingAndGlyphs" >0.02240</text>
<text x="391.4" y="22" fill="#17181d" stroke="#17181d" textLength="5.8" lengthAdjust="spacingAndGlyphs" >L</text>
<text x="398" y="22" fill="#089981" stroke="#089981" textLength="47" lengthAdjust="spacingAndGlyphs" >0.02235</text>
<text x="453.6" y="22" fill="#17181d" stroke="#17181d" textLength="7.2" lengthAdjust="spacingAndGlyphs" >C</text>
<text x="461.8" y="22" fill="#089981" stroke="#089981" textLength="46.8" lengthAdjust="spacingAndGlyphs" >0.02235</text>
<text x="517.4" y="22" fill="#089981" stroke="#089981" textLength="53" lengthAdjust="spacingAndGlyphs" >−0.00001</text>
<text x="576.4" y="22" fill="#089981" stroke="#089981" textLength="50.4" lengthAdjust="spacingAndGlyphs" >(−0.04%)</text>
<rect x="198.4" y="16.6" width="2" height="2" fill="#17181d"/><rect x="226.4" y="16.6" width="2" height="2" fill="#17181d"/>
<text x="20.1" y="41" fill="#17181d" stroke="#17181d" textLength="18.0" lengthAdjust="spacingAndGlyphs" >Vol</text>
<text x="46.4" y="41" fill="#26a69a" stroke="#26a69a" textLength="7.6" lengthAdjust="spacingAndGlyphs" >0</text>
<rect x="11" y="1" width="1" height="516" fill="#f2f2f2" fill-opacity="0.6" shape-rendering="crispEdges"/>
<g fill="#151515"><path d="M13.1 542.95H26.7V559.7H20.0V549.6H13.1Z"/><circle cx="32.45" cy="546.15" r="3.35"/><path d="M39.1 542.95H46.7L40.45 559.7H32.65Z"/></g>
<defs><clipPath id="xh"><rect x="50" y="547.7" width="150" height="12.0"/></clipPath><clipPath id="cap"><rect x="50" y="543.1" width="150" height="16.6"/></clipPath></defs>
<g fill="#151515" stroke="none">
<rect x="54.9" y="543.1" width="12.0" height="2.95"/><rect x="59.2" y="543.1" width="3.6" height="16.6"/>
<rect x="67.1" y="547.6" width="3.15" height="12.1"/>
<rect x="84.15" y="547.6" width="3.1" height="12.1"/>
<rect x="98.85" y="543.1" width="3.15" height="16.6"/>
<rect x="104.2" y="547.6" width="3.3" height="12.1"/><circle cx="105.85" cy="544.2" r="1.95"/>
<rect x="109.9" y="547.6" width="3.15" height="12.1"/>
<rect x="153.55" y="547.6" width="3.4" height="12.1"/><circle cx="155.25" cy="544.15" r="1.95"/>
<path d="M135.3 543.1h4.0l4.45 11.9 4.45-11.9h3.9l-6.3 16.6h-4.1z"/>
<rect x="161.2" y="552.35" width="10.0" height="2.35"/>
</g>
<g fill="none" stroke="#151515" stroke-width="3.1">
<path d="M68.7 556 C68.7 551.2 70.3 549.0 74.0 549.0" stroke-width="3.0"/>
<ellipse cx="81.05" cy="553.65" rx="4.55" ry="4.9"/>
<ellipse cx="95.7" cy="553.65" rx="4.6" ry="4.9"/>
<ellipse cx="129.35" cy="553.55" rx="4.65" ry="4.85"/>
<path d="M111.45 555 C111.45 550.6 112.9 548.75 115.6 548.75 C118.3 548.75 119.35 550.6 119.35 553.4 V559.7"/>
<path d="M134.15 547.6 V559.6 C134.15 562.7 132.2 563.8 129.5 563.8 C127.3 563.8 125.5 563.0 124.5 561.6" stroke-width="3.05"/>
<path d="M169.9 554.2 A4.65 4.9 0 1 0 168.9 556.9" stroke-width="3.0"/>
</g>
<g clip-path="url(#xh)"><path d="M173.7 546.5 L177.25 558.3 L181.35 548.5 L185.45 558.3 L189.0 546.5" fill="none" stroke="#151515" stroke-width="3.7" stroke-linejoin="miter" stroke-miterlimit="10"/></g>
</svg></body></html>
